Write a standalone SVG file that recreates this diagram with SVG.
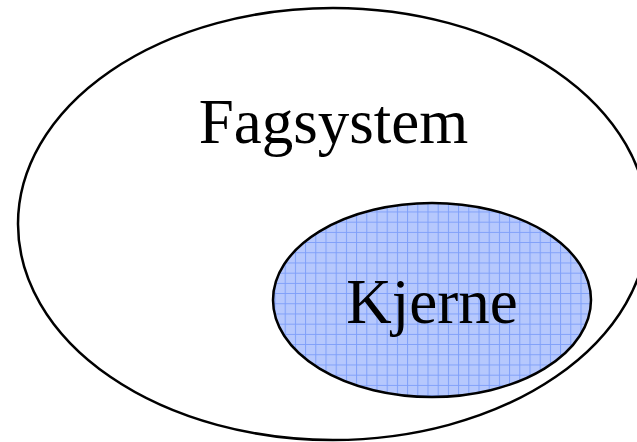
<svg xmlns="http://www.w3.org/2000/svg" width="637" height="442" viewBox="0 0 637 442">
  <style>
    .lbl { font-family: 'Liberation Serif', 'Times New Roman', Times, serif; font-size: 63px; fill: #000; text-anchor: middle; }
    .outline { stroke: #000; stroke-width: 2.5; }
  </style>
  <defs>
    <pattern id="grid" patternUnits="userSpaceOnUse" x="274.5" y="211.5" width="10.2" height="10.2">
      <rect x="0" y="0" width="10.2" height="10.2" fill="#b6c8fd"/>
      <path d="M0.5 0 V10.2 M0 0.5 H10.2" stroke="#7f9ff9" stroke-width="1" fill="none"/>
    </pattern>
  </defs>
  <rect width="637" height="442" fill="#fff"/>
  <g id="fagsystem">
    <ellipse class="outline" cx="333" cy="224" rx="315" ry="216" fill="#fff"/>
    <text class="lbl" x="333.5" y="143">Fagsystem</text>
  </g>
  <g id="kjerne">
    <ellipse class="outline" cx="432" cy="300" rx="159" ry="97" fill="url(#grid)"/>
    <text class="lbl" x="432" y="323">Kjerne</text>
  </g>
  <g id="connectors"/>
</svg>
